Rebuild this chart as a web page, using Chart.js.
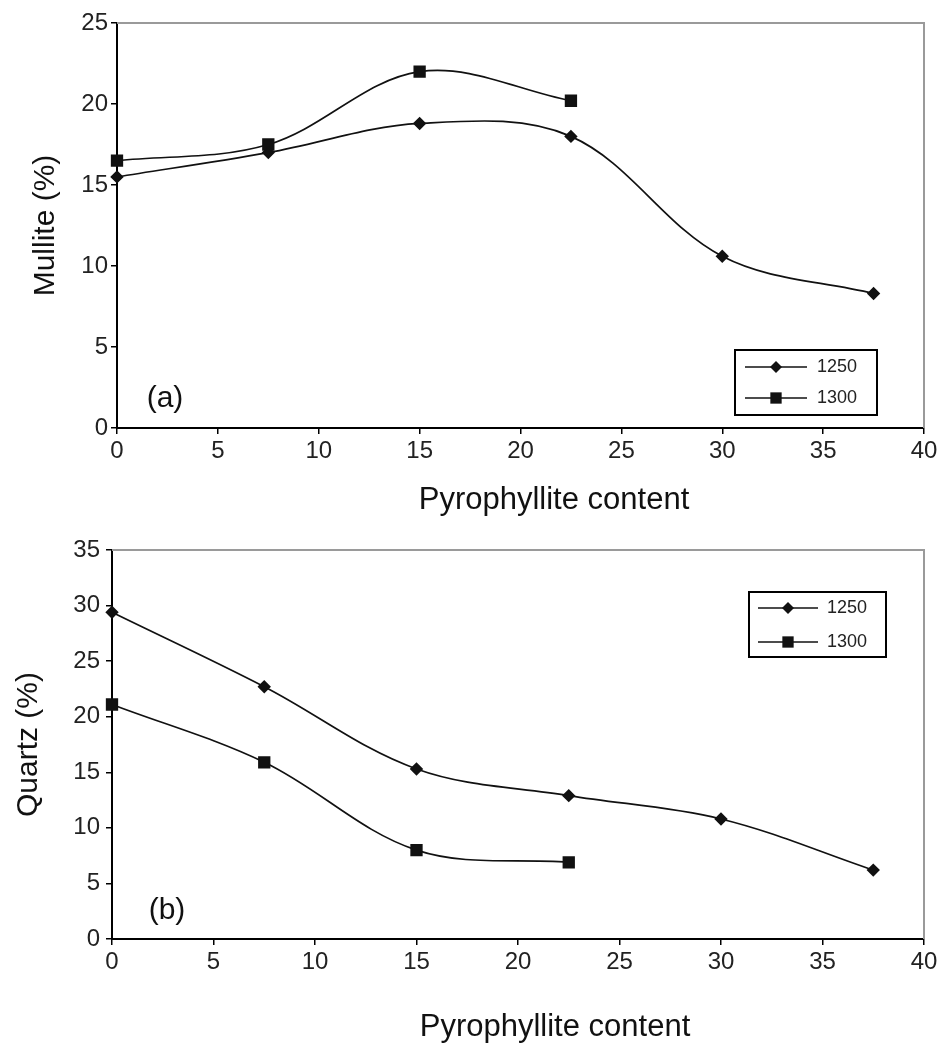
<!DOCTYPE html>
<html>
<head>
<meta charset="utf-8">
<script src="https://cdn.jsdelivr.net/npm/chart.js@4.4.1/dist/chart.umd.min.js"></script>
<style>
  html, body { margin: 0; padding: 0; background: #fff; }
  .panel { position: relative; width: 944px; }
  #panelA { height: 525px; }
  #panelB { height: 523px; }
</style>
</head>
<body>
<div class="panel" id="panelA"><canvas id="mulliteChart"></canvas></div>
<div class="panel" id="panelB"><canvas id="quartzChart"></canvas></div>
<script>
// Data
const pyroContent = [0, 7.5, 15, 22.5, 30, 37.5];
const seriesLabels = ['1250', '1300'];
const mullite1250 = [15.5, 17.0, 18.8, 18.0, 10.6, 8.3];
const mullite1300 = [16.5, 17.5, 22.0, 20.2];
const quartz1250 = [29.4, 22.7, 15.3, 12.9, 10.8, 6.2];
const quartz1300 = [21.1, 15.9, 8.0, 6.9];
const xTickValues = [0, 5, 10, 15, 20, 25, 30, 35, 40];
const mulliteTickValues = [0, 5, 10, 15, 20, 25];
const quartzTickValues = [0, 5, 10, 15, 20, 25, 30, 35];

const fontFamily = "'Liberation Sans', Arial, Helvetica, sans-serif";
const ink = '#111';

function toPoints(values) {
    return values.map((v, i) => ({ x: pyroContent[i], y: v }));
}

function makeDatasets(v1250, v1300) {
    return [
        {
            label: seriesLabels[0],
            data: toPoints(v1250),
            borderColor: ink,
            backgroundColor: ink,
            borderWidth: 1.7,
            pointStyle: 'rectRot',
            pointRadius: 5.5,
            tension: 0.35,
            clip: false
        },
        {
            label: seriesLabels[1],
            data: toPoints(v1300),
            borderColor: ink,
            backgroundColor: ink,
            borderWidth: 1.7,
            pointStyle: 'rect',
            pointRadius: 7.5,
            tension: 0.35,
            clip: false
        }
    ];
}

// Gray frame on top/right, axis title, panel tag and the boxed legend
const panelDecor = {
    id: 'panelDecor',
    beforeDatasetsDraw(chart) {
        const { ctx, chartArea: a } = chart;
        ctx.save();
        ctx.strokeStyle = '#9a9a9a';
        ctx.lineWidth = 2;
        ctx.beginPath();
        ctx.moveTo(a.left, a.top);
        ctx.lineTo(a.right, a.top);
        ctx.lineTo(a.right, a.bottom);
        ctx.stroke();
        ctx.restore();
    },
    afterDraw(chart, args, opts) {
        const { ctx } = chart;
        ctx.save();
        ctx.fillStyle = ink;
        ctx.textBaseline = 'middle';

        ctx.textAlign = 'center';
        ctx.font = `31px ${fontFamily}`;
        ctx.fillText(opts.xTitle, opts.xTitleX, opts.xTitleY);

        ctx.font = `30px ${fontFamily}`;
        ctx.fillText(opts.tag, opts.tagX, opts.tagY);

        const b = opts.legend;
        ctx.strokeStyle = '#000';
        ctx.lineWidth = 2;
        ctx.strokeRect(b.x, b.y, b.w, b.h);
        ctx.font = `18px ${fontFamily}`;
        ctx.textAlign = 'left';
        chart.data.datasets.forEach((ds, i) => {
            const y = b.y + b.rowStart + i * b.rowGap;
            ctx.strokeStyle = ink;
            ctx.lineWidth = 1.7;
            ctx.beginPath();
            ctx.moveTo(b.x + b.lineStart, y);
            ctx.lineTo(b.x + b.lineEnd, y);
            ctx.stroke();
            ctx.fillStyle = ink;
            Chart.helpers.drawPoint(ctx, {
                pointStyle: ds.pointStyle,
                radius: ds.pointRadius + 0.5,
                rotation: 0,
                borderWidth: 0
            }, b.x + (b.lineStart + b.lineEnd) / 2, y);
            ctx.fillStyle = '#222';
            ctx.fillText(ds.label, b.x + b.textX, y);
        });
        ctx.restore();
    }
};

function buildChart(canvasId, cfg) {
    const canvas = document.getElementById(canvasId);
    return new Chart(canvas.getContext('2d'), {
        type: 'line',
        data: { datasets: cfg.datasets },
        plugins: [panelDecor],
        options: {
            responsive: true,
            maintainAspectRatio: false,
            animation: false,
            layout: { padding: { top: cfg.padTop, right: 20, left: 0, bottom: 0 } },
            plugins: {
                legend: { display: false },
                tooltip: { enabled: false },
                panelDecor: cfg.decor
            },
            scales: {
                x: {
                    type: 'linear',
                    min: 0,
                    max: 40,
                    afterBuildTicks: scale => { scale.ticks = xTickValues.map(v => ({ value: v })); },
                    afterFit: scale => { scale.height = cfg.xHeight; },
                    border: { color: '#000', width: 2 },
                    grid: { drawOnChartArea: false, drawTicks: true, tickLength: 6, color: '#000', lineWidth: 1.5 },
                    ticks: { color: '#222', padding: 3, maxRotation: 0, font: { family: fontFamily, size: 24 } }
                },
                y: {
                    type: 'linear',
                    min: 0,
                    max: cfg.yMax,
                    afterBuildTicks: scale => { scale.ticks = cfg.yTicks.map(v => ({ value: v })); },
                    afterFit: scale => { scale.width = cfg.yWidth; },
                    border: { color: '#000', width: 2 },
                    grid: { drawOnChartArea: false, drawTicks: true, tickLength: 6, color: '#000', lineWidth: 1.5 },
                    ticks: { color: '#222', padding: cfg.yTickPad, font: { family: fontFamily, size: 24 } },
                    title: {
                        display: true,
                        text: cfg.yTitle,
                        color: ink,
                        padding: { top: cfg.yTitlePad, bottom: 0 },
                        font: { family: fontFamily, size: 30 }
                    }
                }
            }
        }
    });
}

buildChart('mulliteChart', {
    datasets: makeDatasets(mullite1250, mullite1300),
    yMax: 25,
    yTicks: mulliteTickValues,
    yTitle: 'Mullite (%)',
    padTop: 23,
    xHeight: 97,
    yWidth: 117,
    yTickPad: 3,
    yTitlePad: 28,
    decor: {
        xTitle: 'Pyrophyllite content', xTitleX: 554, xTitleY: 500,
        tag: '(a)', tagX: 165, tagY: 399,
        legend: { x: 735, y: 350, w: 142, h: 65, rowStart: 17, rowGap: 31, lineStart: 10, lineEnd: 72, textX: 82 }
    }
});

buildChart('quartzChart', {
    datasets: makeDatasets(quartz1250, quartz1300),
    yMax: 35,
    yTicks: quartzTickValues,
    yTitle: 'Quartz (%)',
    padTop: 25,
    xHeight: 109,
    yWidth: 112,
    yTickPad: 6,
    yTitlePad: 11,
    decor: {
        xTitle: 'Pyrophyllite content', xTitleX: 555, xTitleY: 502,
        tag: '(b)', tagX: 167, tagY: 386,
        legend: { x: 749, y: 67, w: 137, h: 65, rowStart: 16, rowGap: 34, lineStart: 9, lineEnd: 69, textX: 78 }
    }
});
</script>
</body>
</html>
